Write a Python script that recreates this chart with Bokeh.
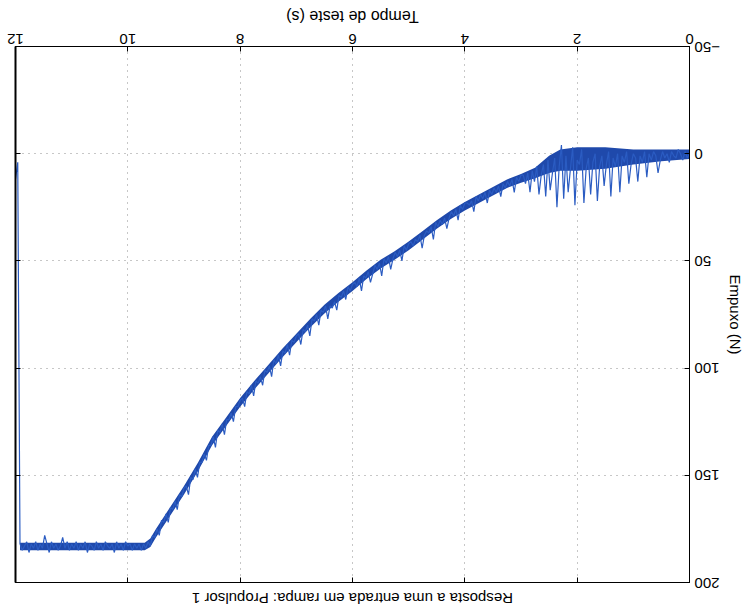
from bokeh.plotting import figure
from bokeh.models import Range1d, FixedTicker, LinearAxis, ColumnDataSource
from bokeh.embed import file_html
from bokeh.resources import INLINE

sample_period_s = 0.04
thrust_0_1s = [0, 2, -1, 3, 0, -2, 2, 1, -1, 4, 0, 2, -1, 3, 9, 1, -1, 3, 0, 11, -1, 4, 1, 13, 2]
thrust_1_2s = [0, 5, 14, -1, 4, 1, 18, 0, 6, 2, 20, -1, 5, 15, 1, 6, 22, 0, 4, 19, 2, 7, 23, -2, 5]
thrust_2_3s = [3, 24, -3, 7, 18, 1, 21, -4, 6, 25, 2, 9, 17, 3, 20, 5, 10, 19, 6, 13, 8, 18, 9, 14, 10]
thrust_3_4s = [10, 13, 11, 18, 12, 15, 13, 16, 14, 20, 15, 18, 16, 19, 17, 23, 18, 21, 19, 22, 20, 27, 22, 24, 23]
thrust_4_5s = [23, 26, 24, 31, 26, 29, 27, 30, 35, 30, 33, 31, 34, 32, 40, 34, 37, 36, 38, 44, 38, 41, 40, 43, 41]
thrust_5_6s = [42, 45, 43, 50, 45, 48, 46, 49, 54, 48, 51, 49, 57, 51, 54, 52, 56, 60, 55, 58, 57, 64, 58, 62, 60]
thrust_6_7s = [61, 64, 62, 68, 64, 67, 66, 73, 69, 72, 71, 77, 71, 74, 73, 80, 75, 78, 77, 85, 80, 83, 82, 89, 84]
thrust_7_8s = [85, 88, 87, 94, 89, 93, 92, 99, 94, 98, 96, 104, 99, 102, 101, 108, 104, 107, 106, 113, 108, 112, 111, 118, 114]
thrust_8_9s = [115, 118, 118, 125, 121, 124, 124, 131, 126, 130, 129, 137, 132, 136, 136, 143, 140, 144, 144, 151, 147, 152, 151, 159, 155]
thrust_9_10s = [156, 160, 159, 166, 162, 166, 165, 172, 168, 172, 171, 178, 175, 179, 178, 183, 181, 184, 182, 185, 182, 184, 182, 185, 182]
thrust_10_11s = [183, 181, 185, 182, 184, 181, 186, 182, 184, 183, 181, 185, 182, 184, 181, 185, 183, 182, 186, 181, 184, 182, 185, 181, 184]
thrust_11_12s = [182, 185, 181, 184, 179, 183, 185, 182, 184, 181, 186, 182, 178, 184, 182, 185, 181, 184, 182, 186, 181, 183, 185, 182, 4]
thrust_end = [12]

# solid part of the printed noisy trace (lower / upper edge of the band)
band_time_s = [0, 0.5, 1.0, 1.5, 2.0, 2.3, 2.5, 2.75, 3.0, 3.25, 3.5, 3.75, 4.0, 4.25, 4.5,
               4.75, 5.0, 5.25, 5.5, 5.75, 6.0, 6.25, 6.5, 6.75, 7.0, 7.25, 7.5, 7.75, 8.0,
               8.25, 8.5, 8.75, 9.0, 9.25, 9.5, 9.6, 9.7, 10.5, 11.0, 11.5, 11.92]
band_low_n = [-2, -2, -2, -3, -3, -2, 1, 6.5, 9.5, 12, 15.5, 19, 22.5, 26.5, 31,
              36, 41, 45.5, 49.5, 54.5, 60, 65, 70.5, 77, 84, 91, 98.5, 106, 114,
              123, 132, 144, 155, 165, 175, 179.5, 181.5, 181.5, 181.5, 181.5, 181.5]
band_high_n = [2.5, 3.5, 5, 7, 8, 8, 9, 11.5, 13.5, 16, 19.5, 23, 26.5, 30.5, 35,
               40, 45, 49.5, 53.5, 58.5, 64, 69, 74.5, 81, 88, 95, 102.5, 110, 118,
               127, 136, 148, 159, 169, 179, 183.5, 185, 185, 185, 185, 185]

x_ticks = [0, 2, 4, 6, 8, 10, 12]
y_ticks = [-50, 0, 50, 100, 150, 200]
title_text = "Resposta a uma entrada em rampa: Propulsor 1"
x_label = "Tempo de teste (s)"
y_label = "Empuxo (N)"

thrust_n = (thrust_0_1s + thrust_1_2s + thrust_2_3s + thrust_3_4s + thrust_4_5s + thrust_5_6s
            + thrust_6_7s + thrust_7_8s + thrust_8_9s + thrust_9_10s + thrust_10_11s
            + thrust_11_12s + thrust_end)
time_s = [round(i * sample_period_s, 2) for i in range(len(thrust_n))]
source = ColumnDataSource(data=dict(t=time_s, f=thrust_n))
band_source = ColumnDataSource(data=dict(t=band_time_s, lo=band_low_n, hi=band_high_n))

FONT = "Liberation Sans"

# The reference is a MATLAB figure printed and scanned upside down:
# draw the upright figure, then turn the whole plot by 180 degrees.
p = figure(width=747, height=616, output_backend="svg", toolbar_location=None,
           x_range=Range1d(0, 12), y_range=Range1d(-50, 200),
           title=title_text,
           min_border_left=52, min_border_right=16, min_border_top=33, min_border_bottom=47)
p.stylesheets = [":host { transform: rotate(180deg); }"]
p.background_fill_color = "white"
p.border_fill_color = "white"
p.outline_line_color = "black"

p.title.align = "center"
p.title.text_font = FONT
p.title.text_font_size = "15px"
p.title.text_font_style = "normal"
p.title.text_color = "black"
p.title.standoff = 14

p.varea(x="t", y1="lo", y2="hi", source=band_source, fill_color="#1f49ab")
p.line("t", "f", source=source, line_color="#2b5cc2", line_width=1.2)

def style_axis(ax, ticks, label=None, standoff=5, label_standoff=5, label_size="15px"):
    ax.ticker = FixedTicker(ticks=ticks)
    ax.major_tick_in = 5
    ax.major_tick_out = 0
    ax.minor_tick_line_color = None
    ax.axis_line_color = "black"
    ax.major_tick_line_color = "black"
    ax.major_label_standoff = standoff
    ax.major_label_text_font = FONT
    ax.major_label_text_font_size = "15px"
    ax.major_label_text_color = "black"
    if label is not None:
        ax.axis_label = label
        ax.axis_label_standoff = label_standoff
        ax.axis_label_text_font = FONT
        ax.axis_label_text_font_size = label_size
        ax.axis_label_text_font_style = "normal"
        ax.axis_label_text_color = "black"

style_axis(p.xaxis[0], x_ticks, x_label, standoff=3, label_standoff=6, label_size="16px")
style_axis(p.yaxis[0], y_ticks, y_label, standoff=5, label_standoff=4, label_size="15px")

# box: tick marks on the opposite sides, without labels
tx = LinearAxis()
style_axis(tx, x_ticks, standoff=0)
tx.major_label_overrides = {t: "" for t in x_ticks}
p.add_layout(tx, "above")
ry = LinearAxis(axis_line_width=2)
style_axis(ry, y_ticks, standoff=0)
ry.major_label_overrides = {t: "" for t in y_ticks}
p.add_layout(ry, "right")

for g in (p.xgrid[0], p.ygrid[0]):
    g.grid_line_color = "#8f8f8f"
    g.grid_line_dash = "1 5"
    g.grid_line_width = 1
p.xgrid[0].ticker = FixedTicker(ticks=x_ticks)
p.ygrid[0].ticker = FixedTicker(ticks=y_ticks)

open("out.html", "w").write(file_html(p, INLINE))
